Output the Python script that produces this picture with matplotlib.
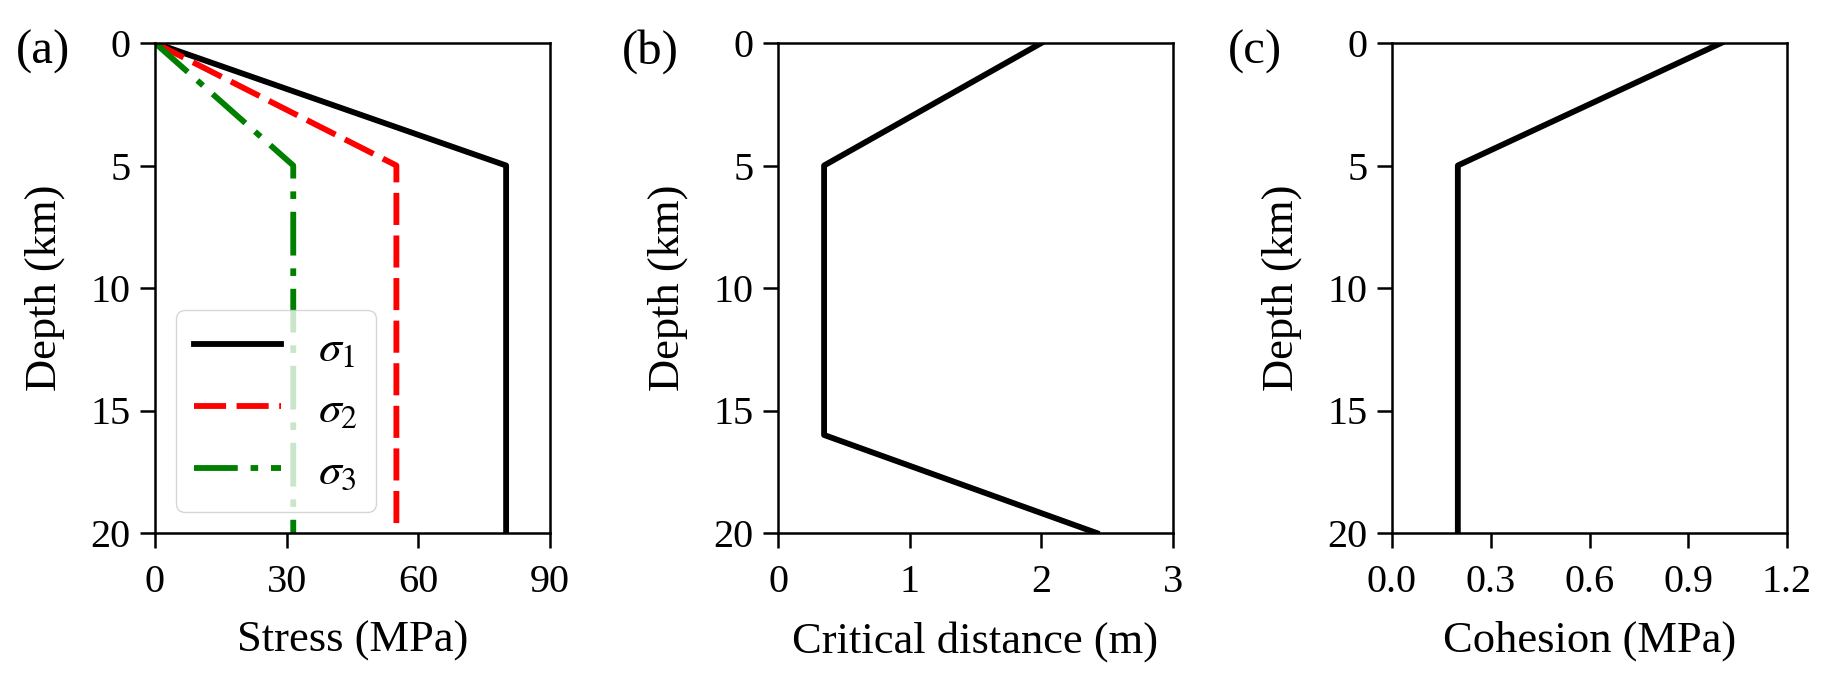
import matplotlib
matplotlib.use("Agg")
import matplotlib.pyplot as plt

# ---- data ----
depth_a = [0, 5, 20]
sigma1 = [0, 80, 80]
sigma2 = [0, 55, 55]
sigma3 = [0, 31.5, 31.5]

depth_b = [0, 5, 16, 20]
crit_dist = [2.0, 0.35, 0.35, 2.42]

depth_c = [0, 5, 20]
cohesion = [1.0, 0.2, 0.2]

xticks_a = [0, 30, 60, 90]
xticks_b = [0, 1, 2, 3]
xticks_c = [0.0, 0.3, 0.6, 0.9, 1.2]
yticks = [0, 5, 10, 15, 20]
panel_letters = ['(a)', '(b)', '(c)']

plt.rcParams['font.family'] = ['Liberation Serif', 'DejaVu Serif']
plt.rcParams['mathtext.fontset'] = 'stix'

W, H = 1839, 692
fig = plt.figure(figsize=(W / 100, H / 100), dpi=100)

def frac_axes(l, r, t, b):
    return fig.add_axes([l / W, 1 - b / H, (r - l) / W, (b - t) / H])

ax_a = frac_axes(155, 550, 43, 533)
ax_b = frac_axes(778, 1173, 43, 533)
ax_c = frac_axes(1392, 1787, 43, 533)

TICK_FS = 29
LABEL_FS = 32
LW = 4.2

ax_a.plot(sigma1, depth_a, color='black', lw=LW, label=r'$\sigma_1$')
ax_a.plot(sigma2, depth_a, color='red', lw=LW, dashes=(5.5, 1.8), label=r'$\sigma_2$')
ax_a.plot(sigma3, depth_a, color='green', lw=LW, dashes=(7.5, 2.2, 1.3, 2.2), label=r'$\sigma_3$')
ax_a.set_xlim(0, 90)
ax_a.set_xticks(xticks_a)
ax_a.set_xlabel('Stress (MPa)', fontsize=LABEL_FS, labelpad=14)
leg = ax_a.legend(loc='lower left', fontsize=33, handlelength=1.9,
                  borderaxespad=0.45, labelspacing=0.42, handletextpad=0.8)

ax_b.plot(crit_dist, depth_b, color='black', lw=LW)
ax_b.set_xlim(0, 3)
ax_b.set_xticks(xticks_b)
ax_b.set_xlabel('Critical distance (m)', fontsize=LABEL_FS, labelpad=14)

ax_c.plot(cohesion, depth_c, color='black', lw=LW)
ax_c.set_xlim(0, 1.2)
ax_c.set_xticks(xticks_c)
ax_c.set_xticklabels([f'{v:.1f}' for v in xticks_c])
ax_c.set_xlabel('Cohesion (MPa)', fontsize=LABEL_FS, labelpad=14)

letter_x = [43, 650, 1255]
for ax, letter, lx in zip([ax_a, ax_b, ax_c], panel_letters, letter_x):
    ax.set_ylim(20, 0)
    ax.set_yticks(yticks)
    ax.set_ylabel('Depth (km)', fontsize=LABEL_FS, labelpad=18)
    ax.tick_params(axis='both', labelsize=TICK_FS, length=10.5, width=1.8,
                   direction='out')
    ax.tick_params(axis='x', pad=12)
    ax.tick_params(axis='y', pad=7)
    for s in ax.spines.values():
        s.set_linewidth(1.8)
    fig.text(lx / W, 1 - 52 / H, letter, fontsize=35, ha='center', va='center')

fig.savefig('out.png', dpi=100)
